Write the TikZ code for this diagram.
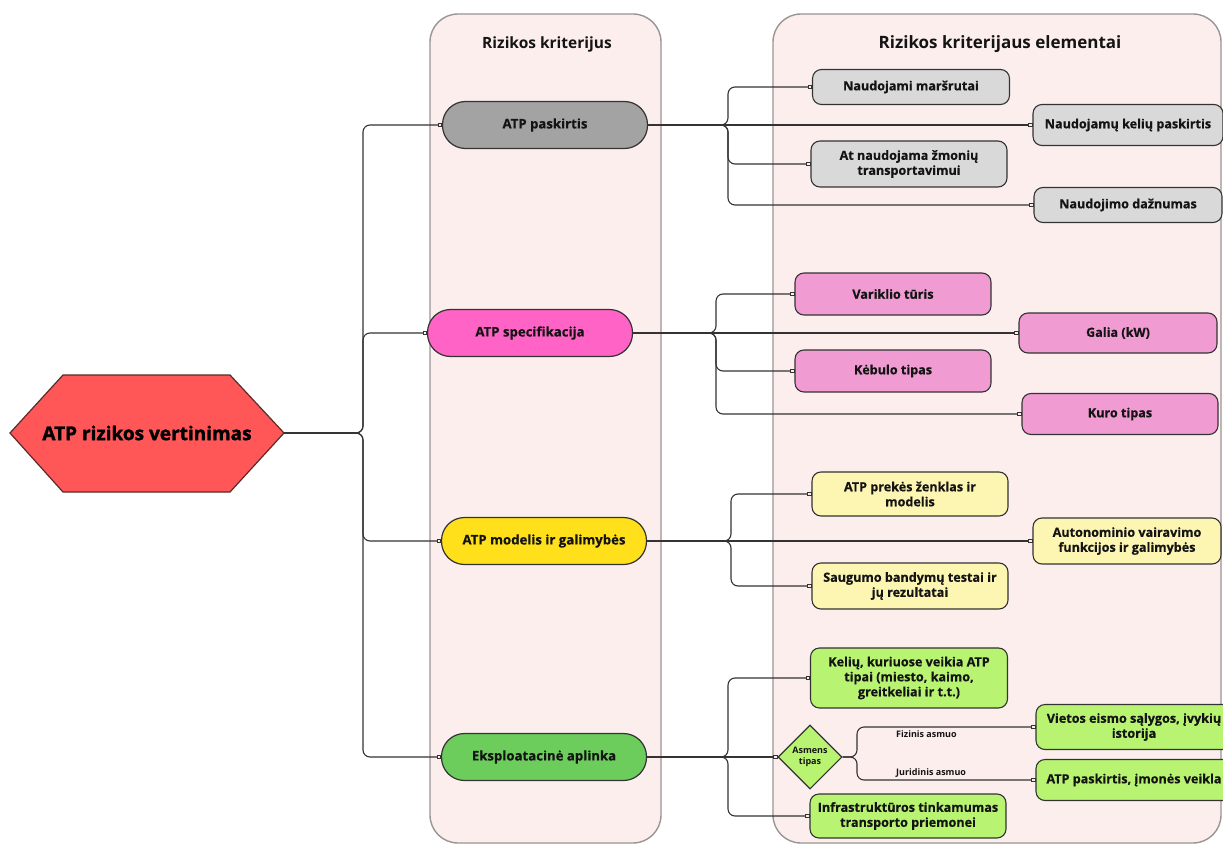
\documentclass[tikz,border=0pt]{standalone}
\usepackage{fontspec}
\setmainfont{Open Sans}
\newfontfamily\heavyfont{Open Sans}[BoldFeatures={FakeBold=1.6}]
\newfontfamily\semifont{Open Sans}[BoldFeatures={FakeBold=0.5}]
\usetikzlibrary{arrows.meta,shapes.geometric}
\definecolor{linec}{HTML}{333333}
\definecolor{textc}{HTML}{141414}
\definecolor{panelf}{HTML}{FDEEEE}
\definecolor{paneld}{HTML}{9A9494}
\definecolor{hexf}{HTML}{FF5757}
\definecolor{hexd}{HTML}{5A2A2A}
\definecolor{grayD}{HTML}{A3A3A3}
\definecolor{grayL}{HTML}{D9D9D9}
\definecolor{pinkD}{HTML}{FF63C6}
\definecolor{pinkL}{HTML}{F09BD2}
\definecolor{yelD}{HTML}{FFE01B}
\definecolor{yelL}{HTML}{FDF5B2}
\definecolor{grnD}{HTML}{6CCC5C}
\definecolor{grnL}{HTML}{B8F371}
\begin{document}
\begin{tikzpicture}[x=1pt,y=-1pt,
  panel/.style={draw=paneld, line width=1.4pt, fill=panelf, rounded corners=28pt},
  ptitle/.style={font=\bfseries\fontsize{15.5}{18}\selectfont, text=textc},
  hexa/.style={draw=hexd, line width=1.2pt, fill=hexf},
  hextext/.style={font=\heavyfont\bfseries\fontsize{19}{22}\selectfont, text=black},
  l1/.style={draw=linec, line width=1.2pt, rounded corners=23pt, minimum width=205pt,
    minimum height=47pt, inner sep=0pt, font=\semifont\bfseries\fontsize{13.2}{16}\selectfont, text=textc},
  l2/.style={draw=linec, line width=1.1pt, rounded corners=9pt, align=center, inner sep=2pt,
    font=\semifont\bfseries\fontsize{12.6}{15}\selectfont, text=textc},
  dia/.style={shape=diamond, draw=linec, line width=1.1pt, fill=grnL, minimum width=64pt,
    minimum height=64pt, inner sep=0pt, align=center, font=\bfseries\fontsize{9}{11}\selectfont, text=textc},
  small/.style={font=\bfseries\fontsize{9}{10}\selectfont, text=textc, inner sep=0pt},
  conn/.style={draw=linec, line width=1.1pt, rounded corners=7pt,
    -{Square[open, length=4pt, width=4pt, line width=0.8pt]}}
]
\clip (0,0) rectangle (1223,845);
\fill[white] (0,0) rectangle (1223,845);

% panels
\draw[panel] (430,14) rectangle (661,843);
\draw[panel] (773,14) rectangle (1221,843);
\node[ptitle] (t1) at (547,44) {Rizikos kriterijus};
\node[ptitle, font=\bfseries\fontsize{17}{20}\selectfont] (t2) at (1000,44) {Rizikos kriterijaus elementai};

% root hexagon
\draw[hexa] (10,433) -- (63,375) -- (230,375) -- (284,433) -- (230,492) -- (63,492) -- cycle;
\node[hextext] (hex) at (147,433) {ATP rizikos vertinimas};
\coordinate (hexE) at (284,433);

% level 1
\node[l1, fill=grayD] (a) at (545,125) {ATP paskirtis};
\node[l1, fill=pinkD] (b) at (530,333) {ATP specifikacija};
\node[l1, fill=yelD] (c) at (544,541) {ATP modelis ir galimybės};
\node[l1, fill=grnD] (d) at (544,757) {Eksploatacinė aplinka};

% level 2 gray
\node[l2, fill=grayL, minimum width=197pt, minimum height=35pt] (g1) at (911,87) {Naudojami maršrutai};
\node[l2, fill=grayL, minimum width=190pt, minimum height=41pt] (g2) at (1128,125) {Naudojamų kelių paskirtis};
\node[l2, fill=grayL, minimum width=196pt, minimum height=46pt] (g3) at (909,164) {At naudojama žmonių\\transportavimui};
\node[l2, fill=grayL, minimum width=188pt, minimum height=35pt] (g4) at (1128,205) {Naudojimo dažnumas};

% level 2 pink
\node[l2, fill=pinkL, minimum width=196pt, minimum height=42pt] (p1) at (893,294) {Variklio tūris};
\node[l2, fill=pinkL, minimum width=198pt, minimum height=40pt] (p2) at (1118,333) {Galia (kW)};
\node[l2, fill=pinkL, minimum width=196pt, minimum height=42pt] (p3) at (893,371) {Kėbulo tipas};
\node[l2, fill=pinkL, minimum width=196pt, minimum height=41pt] (p4) at (1120,414) {Kuro tipas};

% level 2 yellow
\node[l2, fill=yelL, minimum width=196pt, minimum height=44pt] (y1) at (910,494) {ATP prekės ženklas ir\\modelis};
\node[l2, fill=yelL, minimum width=188pt, minimum height=46pt] (y2) at (1127,541) {Autonominio vairavimo\\funkcijos ir galimybės};
\node[l2, fill=yelL, minimum width=196pt, minimum height=46pt] (y3) at (910,586) {Saugumo bandymų testai ir\\jų rezultatai};

% level 2 green
\node[l2, fill=grnL, minimum width=197pt, minimum height=60pt] (e1) at (909,678) {Kelių, kuriuose veikia ATP\\tipai (miesto, kaimo,\\greitkeliai ir t.t.)};
\node[dia] (s) at (810,757) {Asmens\\tipas};
\node[l2, fill=grnL, minimum width=196pt, minimum height=45pt] (e2) at (1134,727) {Vietos eismo sąlygos, įvykių\\istorija};
\node[l2, fill=grnL, minimum width=196pt, minimum height=41pt] (e3) at (1134,780) {ATP paskirtis, įmonės veikla};
\node[l2, fill=grnL, minimum width=196pt, minimum height=44pt] (e4) at (908,816) {Infrastruktūros tinkamumas\\transporto priemonei};

% root connectors
\draw[conn] (hexE) -- (363,433) |- (a.west);
\draw[conn] (hexE) -- (363,433) |- (b.west);
\draw[conn] (hexE) -- (363,433) |- (c.west);
\draw[conn] (hexE) -- (363,433) |- (d.west);

% gray connectors
\draw[conn] (a.east) -- (728,125) |- (g1.west);
\draw[conn] (a.east) -- (g2.west);
\draw[conn] (a.east) -- (728,125) |- (g3.west);
\draw[conn] (a.east) -- (728,125) |- (g4.west);

% pink connectors
\draw[conn] (b.east) -- (716,333) |- (p1.west);
\draw[conn] (b.east) -- (p2.west);
\draw[conn] (b.east) -- (716,333) |- (p3.west);
\draw[conn] (b.east) -- (716,333) |- (p4.west);

% yellow connectors
\draw[conn] (c.east) -- (731,541) |- (y1.west);
\draw[conn] (c.east) -- (y2.west);
\draw[conn] (c.east) -- (731,541) |- (y3.west);

% green connectors
\draw[conn] (d.east) -- (728,757) |- (e1.west);
\draw[conn] (d.east) -- (s.west);
\draw[conn] (d.east) -- (728,757) |- (e4.west);
\draw[conn] (s.east) -- (857,757) |- (e2.west);
\draw[conn] (s.east) -- (857,757) |- (e3.west);
\node[small, anchor=west] (lf) at (896,734) {Fizinis asmuo};
\node[small, anchor=west] (lj) at (896,773) {Juridinis asmuo};
\end{tikzpicture}
\end{document}
